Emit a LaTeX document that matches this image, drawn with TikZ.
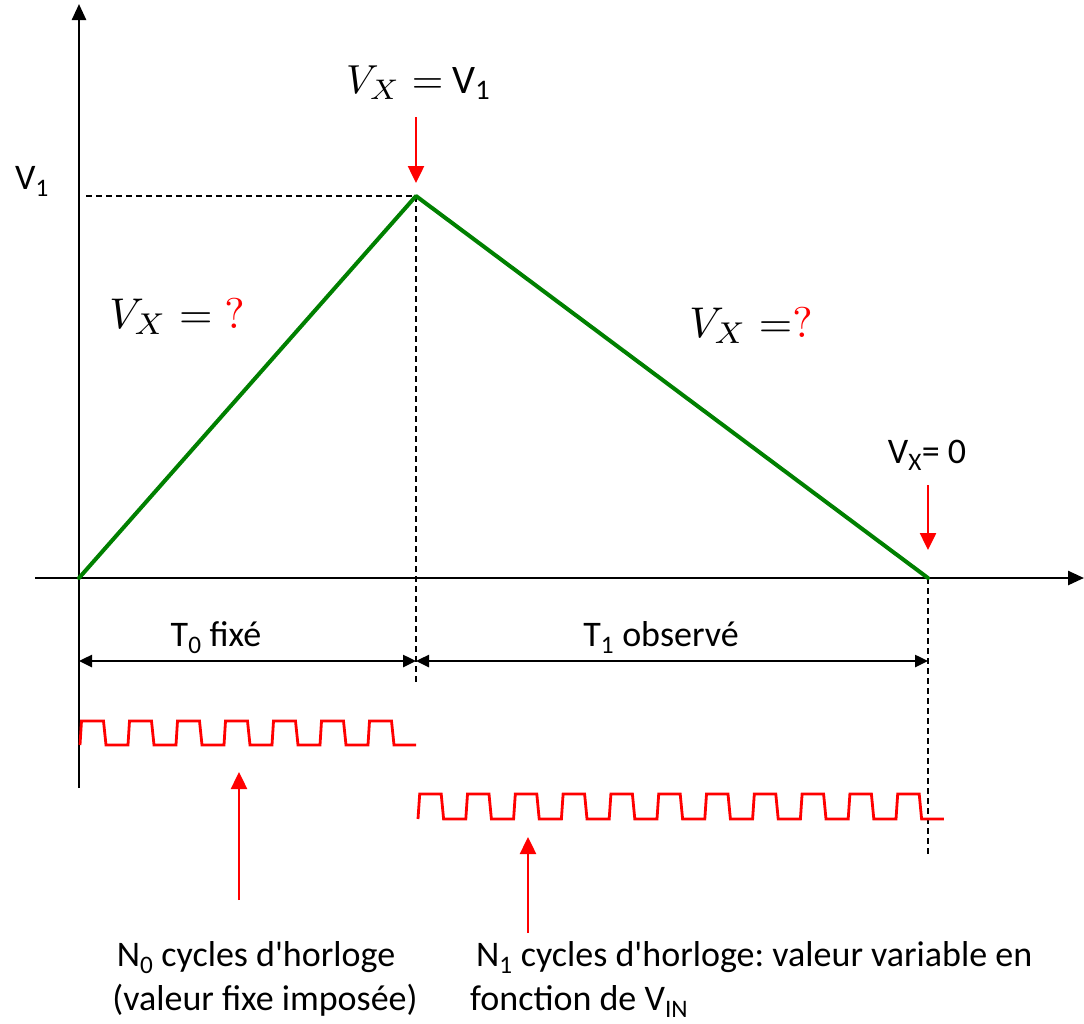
\documentclass[tikz,border=0pt]{standalone}
\usepackage{fontspec}
\setmainfont{Carlito}[Ligatures=TeXOff]
\usetikzlibrary{arrows.meta}
\definecolor{rampgreen}{RGB}{0,128,0}
\frenchspacing
\begin{document}
\begin{tikzpicture}[x=1pt,y=-1pt,
  axis/.style={line width=2.5pt,-{Triangle[length=16pt,width=14pt]}},
  ramp/.style={line width=4pt,draw=rampgreen,line cap=round,line join=round},
  guide/.style={line width=1.5pt,dash pattern=on 6pt off 4pt},
  dimline/.style={line width=2.5pt,{Triangle[length=13pt,width=12pt]}-{Triangle[length=13pt,width=12pt]}},
  redarrow/.style={line width=2.5pt,red,-{Triangle[length=17pt,width=16pt]}},
  clk/.style={line width=2.8pt,red,line join=miter},
  lbl/.style={font=\fontsize{36}{44}\selectfont,inner sep=0pt},
  mlbl/.style={inner sep=0pt,anchor=base,font=\fontsize{10}{12}\selectfont},
]
\useasboundingbox (0,0) rectangle (1084,1023);

% key points
\coordinate (O) at (79,578);
\coordinate (P) at (416,196);
\coordinate (E) at (928,578);
\coordinate (ybot) at (79,788);
\coordinate (ytop) at (79,4);
\coordinate (xleft) at (35,578);
\coordinate (xright) at (1084,578);
\coordinate (hv1) at (86,196);
\coordinate (vPend) at (416,684);
\coordinate (vEend) at (928,856);

% guides
\draw[guide] (hv1) -- (P);
\draw[guide] (P) -- (vPend);
\draw[guide] (E) -- (vEend);

% axes
\draw[axis] (ybot) -- (ytop);
\draw[axis] (xleft) -- (xright);

% ramp
\draw[ramp] (O) -- (P) -- (E);

% labels
\node[lbl,anchor=base west] (lv1) at (15,189) {V\textsubscript{1}};
\node[mlbl,scale=4.05] (ltop) at (419,93) {$V_X = $ V\textsubscript{1}};
\node[mlbl,scale=4.3] (lleft) at (177,328) {$V_X = \textcolor{red}{?}$};
\node[mlbl,scale=4.3] (lright) at (751,337) {$V_X\;{=}\textcolor{red}{?}$};
\node[lbl,anchor=base] (lzero) at (927,463) {V\textsubscript{X}= 0};

% red arrows at the peak and at the end
\coordinate (aPs) at (416,117);
\coordinate (aPe) at (416,183);
\coordinate (aEs) at (928,485);
\coordinate (aEe) at (928,550);
\draw[redarrow] (aPs) -- (aPe);
\draw[redarrow] (aEs) -- (aEe);

% durations
\coordinate (d0) at (79,661);
\coordinate (d1) at (416,661);
\coordinate (d2) at (928,661);
\draw[dimline] (d0) -- (d1);
\draw[dimline] (d1) -- (d2);
\node[lbl,anchor=base] (lt0) at (216,646) {T\textsubscript{0} fixé};
\node[lbl,anchor=base] (lt1) at (661,646) {T\textsubscript{1} observé};

% clocks
\draw[clk] (80,745) \foreach \i in {1,...,7}{ -- ++(1.5,-24) -- ++(22,0) -- ++(2.5,24) -- ++(22,0)};
\draw[clk] (418,819) \foreach \i in {1,...,11}{ -- ++(1.7,-25) -- ++(21.5,0) -- ++(2.4,25) -- ++(22.2,0)};

% arrows to the clock captions
\coordinate (c0s) at (239,900);
\coordinate (c0e) at (239,772);
\coordinate (c1s) at (528,933);
\coordinate (c1e) at (528,837);
\draw[redarrow] (c0s) -- (c0e);
\draw[redarrow] (c1s) -- (c1e);

% captions
\node[lbl,anchor=base] (n0a) at (256,966) {N\textsubscript{0} cycles d'horloge};
\node[lbl,anchor=base] (n0b) at (265,1010) {(valeur fixe imposée)};
\node[lbl,anchor=base west] (n1a) at (476,966) {N\textsubscript{1} cycles d'horloge: valeur variable en};
\node[lbl,anchor=base west] (n1b) at (470,1010) {fonction de V\textsubscript{IN}};
\end{tikzpicture}
\end{document}
